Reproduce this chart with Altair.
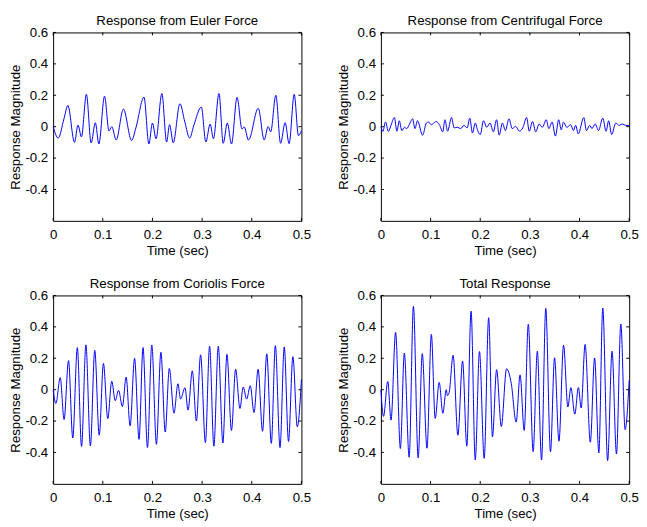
import altair as alt
import pandas as pd

# ---------------- data ----------------
EULER_T = [0.0, 0.0102, 0.0218, 0.0297, 0.043, 0.05, 0.057, 0.067, 0.0765, 0.085, 0.0921,
           0.1035, 0.1125, 0.118, 0.127, 0.1415, 0.158, 0.1666, 0.183, 0.1928, 0.2, 0.2072,
           0.219, 0.2285, 0.2345, 0.2418, 0.2553, 0.2652, 0.275, 0.283, 0.2985, 0.3075,
           0.3162, 0.3228, 0.334, 0.3425, 0.3508, 0.3592, 0.3704, 0.3803, 0.3849, 0.3934,
           0.4131, 0.425, 0.4329, 0.4381, 0.4485, 0.458, 0.4672, 0.4752, 0.4855, 0.494, 0.5]
EULER_V = [0.0, -0.073, 0.05, 0.135, -0.1, 0.01, -0.065, 0.206, -0.104, 0.025, -0.11,
           0.194, -0.028, 0.0, -0.085, 0.112, -0.088, -0.008, 0.188, -0.11, 0.023, -0.077,
           0.211, -0.098, 0.0125, -0.103, 0.146, 0.03, -0.073, 0.005, 0.125, -0.098,
           0.016, -0.077, 0.211, -0.106, 0.023, -0.11, 0.187, -0.015, -0.002, -0.085,
           0.117, -0.085, 0.0, -0.033, 0.2, -0.106, 0.025, -0.108, 0.206, -0.057, -0.025]

CENT_T = [0.0, 0.004, 0.0093, 0.015, 0.0205, 0.027, 0.0323, 0.0369, 0.0422, 0.0474, 0.052,
          0.0586, 0.0639, 0.0685, 0.0737, 0.084, 0.0915, 0.0961, 0.1013, 0.1066, 0.1112,
          0.1178, 0.1244, 0.129, 0.1343, 0.1422, 0.1474, 0.154, 0.1606, 0.1672, 0.1737,
          0.179, 0.1843, 0.1902, 0.1948, 0.2001, 0.2066, 0.2132, 0.2198, 0.2264, 0.233,
          0.2382, 0.2448, 0.2507, 0.2579, 0.2645, 0.2711, 0.279, 0.2856, 0.2935, 0.2987,
          0.3053, 0.3119, 0.3185, 0.3251, 0.333, 0.3382, 0.3448, 0.3514, 0.358, 0.3632,
          0.3678, 0.3744, 0.3823, 0.3876, 0.3922, 0.3974, 0.4086, 0.4139, 0.4205, 0.425,
          0.4316, 0.4382, 0.4468, 0.4534, 0.4587, 0.4646, 0.4731, 0.4797, 0.4863, 0.493, 0.5]
CENT_V = [0.0, -0.03, 0.03, -0.03, 0.01, 0.058, -0.029, 0.0375, -0.025, -0.004, -0.0125,
          0.023, 0.05, -0.0125, 0.0375, -0.055, 0.023, 0.029, 0.0125, 0.023, 0.033,
          0.0125, -0.033, 0.044, -0.029, 0.058, -0.008, -0.004, -0.0125, 0.008, -0.008,
          0.054, -0.04, 0.023, -0.025, -0.05, 0.0375, -0.004, 0.023, -0.033, 0.044,
          -0.054, 0.023, -0.025, 0.05, -0.0125, 0.002, -0.029, -0.008, 0.058, -0.029,
          0.033, -0.033, 0.017, -0.004, 0.044, -0.0125, 0.029, -0.06, 0.044, -0.02,
          0.029, -0.004, 0.0125, -0.025, 0.008, -0.046, 0.058, -0.025, 0.008, -0.0125,
          0.017, -0.025, 0.054, -0.029, 0.0375, -0.05, 0.023, 0.008, 0.017, 0.008, 0.008]

CORI_T = [0.0, 0.0055, 0.0143, 0.022, 0.031, 0.0395, 0.0487, 0.0572, 0.066, 0.075, 0.0838,
          0.0928, 0.1013, 0.11, 0.118, 0.125, 0.1317, 0.1395, 0.147, 0.155, 0.164, 0.173,
          0.181, 0.19, 0.1987, 0.208, 0.217, 0.2257, 0.234, 0.2434, 0.2513, 0.2566, 0.2655,
          0.2717, 0.2803, 0.2885, 0.297, 0.3066, 0.3151, 0.3237, 0.3326, 0.3418, 0.35,
          0.3591, 0.3675, 0.3762, 0.3828, 0.3897, 0.397, 0.4045, 0.4128, 0.4217, 0.4302,
          0.4394, 0.4475, 0.4569, 0.4654, 0.474, 0.4828, 0.4917, 0.5]
CORI_V = [0.0, -0.088, 0.077, -0.19, 0.185, -0.308, 0.268, -0.362, 0.285, -0.358, 0.25,
          -0.29, 0.167, -0.185, 0.054, -0.07, -0.004, -0.108, 0.08, -0.23, 0.2, -0.317,
          0.268, -0.369, 0.284, -0.348, 0.238, -0.27, 0.135, -0.15, 0.0375, -0.06, 0.0125,
          -0.13, 0.12, -0.2, 0.222, -0.337, 0.277, -0.36, 0.277, -0.34, 0.225,
          -0.26, 0.13, -0.12, 0.017, -0.06, 0.025, -0.146, 0.13, -0.265, 0.228,
          -0.342, 0.28, -0.369, 0.272, -0.33, 0.21, -0.237, 0.065]

TOTAL_T = [0.0, 0.0053, 0.0138, 0.0204, 0.0296, 0.0392, 0.0472, 0.0569, 0.0655, 0.075,
           0.0833, 0.0928, 0.1016, 0.1093, 0.1174, 0.1247, 0.1316, 0.134, 0.1375, 0.1454,
           0.155, 0.1645, 0.173, 0.1816, 0.19, 0.1985, 0.208, 0.217, 0.2247, 0.233, 0.2425,
           0.253, 0.2625, 0.2724, 0.2803, 0.2886, 0.2968, 0.3066, 0.315, 0.3235, 0.332,
           0.3415, 0.3497, 0.3586, 0.3678, 0.3765, 0.3826, 0.3905, 0.3977, 0.4033, 0.4112,
           0.4218, 0.4303, 0.4389, 0.4468, 0.4566, 0.4655, 0.4744, 0.4832, 0.4918, 0.5]
TOTAL_V = [0.0, -0.17, 0.052, -0.194, 0.365, -0.375, 0.233, -0.43, 0.531, -0.435,
           0.229, -0.373, 0.352, -0.183, 0.046, -0.15, 0.0, -0.0375, -0.017, 0.219,
           -0.29, 0.183, -0.36, 0.5, -0.448, 0.243, -0.4375, 0.458, -0.3, 0.127, -0.235,
           0.133, 0.04, -0.207, 0.094, -0.26, 0.417, -0.395, 0.245, -0.448, 0.517,
           -0.396, 0.203, -0.328, 0.283, -0.11, 0.013, -0.156, 0.013, -0.117, 0.288,
           -0.335, 0.202, -0.403, 0.52, -0.452, 0.245, -0.41, 0.418, -0.255, 0.06]

PANEL_TITLES = ["Response from Euler Force", "Response from Centrifugal Force",
                "Response from Coriolis Force", "Total Response"]
X_TITLE = "Time (sec)"
Y_TITLE = "Response Magnitude"
X_TICKS = [0, 0.1, 0.2, 0.3, 0.4, 0.5]
Y_TICKS = [-0.4, -0.2, 0, 0.2, 0.4, 0.6]
X_DOMAIN = [0, 0.5]
Y_DOMAIN = [-0.6, 0.6]

# ---------------- styling ----------------
W, H = 253, 192
FONT = "Liberation Sans"
FS = 13.5
TICK_LEN = 3


def panel(ts, vs, title):
    df = pd.DataFrame({"t": ts, "v": vs})
    xs = alt.Scale(domain=X_DOMAIN, nice=False, zero=False)
    ys = alt.Scale(domain=Y_DOMAIN, nice=False, zero=False)
    x_axis = alt.Axis(values=X_TICKS, title=X_TITLE, labelExpr="toString(datum.value)",
                      labelPadding=7, titlePadding=2.5, labelFlush=False, labelOverlap=False)
    y_axis = alt.Axis(values=Y_TICKS, title=Y_TITLE, labelExpr="toString(datum.value)",
                      labelPadding=5.5, titlePadding=2, labelFlush=False, labelOverlap=False)
    line = alt.Chart(df).mark_line(
        color="#0000ff", strokeWidth=1, interpolate="monotone"
    ).encode(
        x=alt.X("t:Q", scale=xs, axis=x_axis),
        y=alt.Y("v:Q", scale=ys, axis=y_axis),
    )
    xt = pd.DataFrame({"t": X_TICKS})
    yt = pd.DataFrame({"v": Y_TICKS})
    rule = dict(color="black", strokeWidth=1)
    top = alt.Chart(xt).mark_rule(**rule).encode(
        x=alt.X("t:Q", scale=xs, axis=x_axis), y=alt.value(0), y2=alt.value(TICK_LEN))
    bottom = alt.Chart(xt).mark_rule(**rule).encode(
        x=alt.X("t:Q", scale=xs, axis=x_axis), y=alt.value(H - TICK_LEN), y2=alt.value(H))
    left = alt.Chart(yt).mark_rule(**rule).encode(
        y=alt.Y("v:Q", scale=ys, axis=y_axis), x=alt.value(0), x2=alt.value(TICK_LEN))
    right = alt.Chart(yt).mark_rule(**rule).encode(
        y=alt.Y("v:Q", scale=ys, axis=y_axis), x=alt.value(W - TICK_LEN), x2=alt.value(W))
    return alt.layer(line, top, bottom, left, right).properties(
        width=W, height=H,
        title=alt.TitleParams(title, font=FONT, fontSize=FS, fontWeight="normal",
                              color="black", anchor="middle", offset=-1.5),
    )


p1 = panel(EULER_T, EULER_V, PANEL_TITLES[0])
p2 = panel(CENT_T, CENT_V, PANEL_TITLES[1])
p3 = panel(CORI_T, CORI_V, PANEL_TITLES[2])
p4 = panel(TOTAL_T, TOTAL_V, PANEL_TITLES[3])

row1 = alt.hconcat(p1, p2, spacing=25)
row2 = alt.hconcat(p3, p4, spacing=25)

chart = alt.vconcat(row1, row2, spacing=19).properties(
    padding=0
).configure(
    background="white", padding=0
).configure_view(
    stroke="black", strokeWidth=1
).configure_axis(
    domain=False, ticks=False, grid=False,
    labelFont=FONT, labelFontSize=FS, labelColor="black",
    titleFont=FONT, titleFontSize=FS, titleFontWeight="normal", titleColor="black",
)

chart.save("out.html", embed_options={"renderer": "svg", "actions": False})
